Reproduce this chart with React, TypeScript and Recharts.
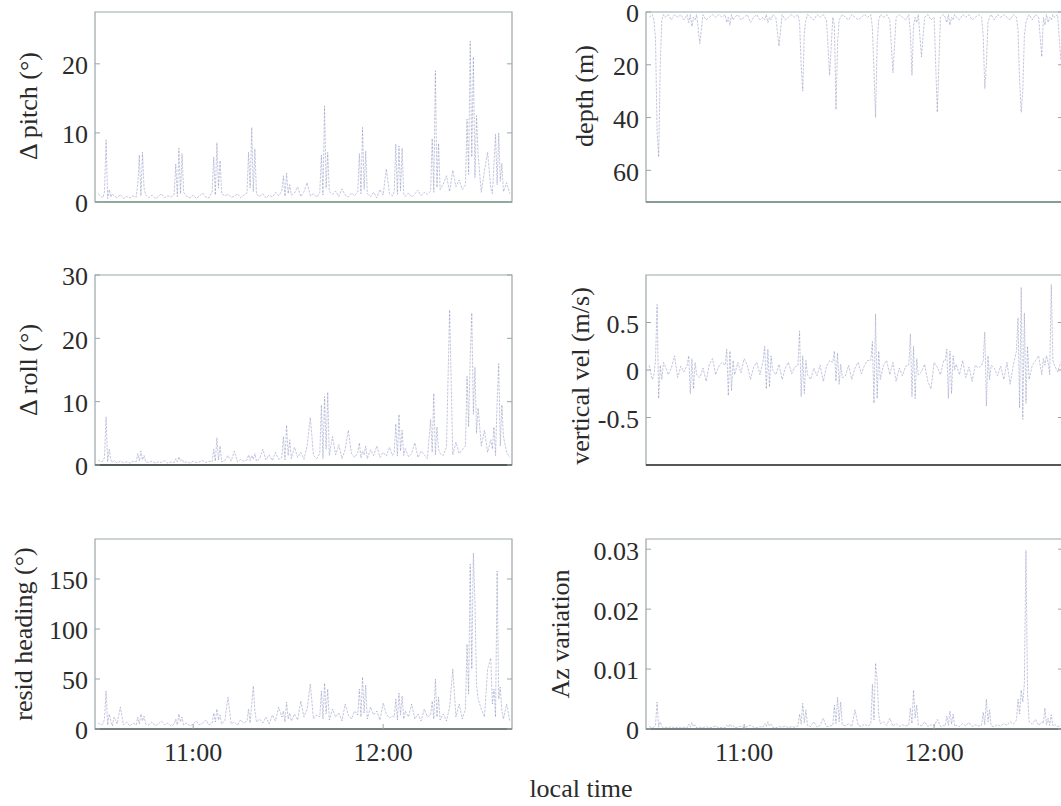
import React from 'react';
import { LineChart, Line, XAxis, YAxis, ReferenceArea, ReferenceLine } from 'recharts';

const FONT = '"Liberation Serif", "DejaVu Serif", "Times New Roman", serif';

// minutes after 10:30 local time (dense around each dive)
const minutesAfter1030 = [
  0, 1,
  1.5, 2, 2.5, 3, 3.5, 4, 4.5,
  5, 6, 7, 8, 9, 10, 11,
  12, 12.5, 13, 13.5, 14, 14.5, 15,
  16, 17, 18, 19, 20, 21, 22, 23,
  24, 24.5, 25, 25.5, 26, 26.5, 27,
  28, 29, 30, 31, 32, 33, 34, 35,
  36, 36.5, 37, 37.5, 38, 38.5, 39,
  40, 41, 42, 43, 44, 45, 46,
  47, 47.5, 48, 48.5, 49, 49.5, 50,
  51, 52, 53, 54, 55, 56, 57,
  58, 58.5, 59, 59.5, 60, 60.5, 61,
  62, 63, 64, 65, 66, 67, 68, 69,
  70, 70.5, 71, 71.5, 72, 72.5, 73,
  74, 75, 76, 77, 78, 79, 80, 81,
  82, 82.5, 83, 83.5, 84, 84.5, 85,
  86, 87, 88, 89, 90, 91, 92, 93,
  93.5, 94, 94.5, 95, 95.5, 96, 96.5,
  97, 98, 99, 100, 101, 102, 103, 104,
  105, 105.5, 106, 106.5, 107, 107.5, 108,
  109, 110, 111, 112, 113, 114, 115,
  116, 116.5, 117, 117.5, 118, 118.5, 119, 119.5, 120,
  121, 122, 123, 124,
  124.5, 125, 125.5, 126, 126.5, 127, 127.5,
  128, 129, 130,
];

const pitchDeg = [
  1.2, 0.8,
  0.6, 1.5, 9, 0.5, 1.8, 0.7, 1.2,
  0.9, 0.6, 1.1, 0.5, 0.8, 0.6, 0.9,
  0.7, 2.5, 6.8, 0.9, 7.2, 2, 1,
  0.6, 1, 0.5, 0.8, 1.2, 0.6, 0.9, 0.7,
  1.1, 5.5, 0.8, 7.8, 1.2, 7, 1.4,
  0.8, 0.6, 1, 0.5, 0.9, 1.3, 0.7, 0.6,
  1.5, 6.5, 1, 8.6, 2, 6, 1.2,
  0.9, 1.1, 0.7, 0.8, 1.2, 0.6, 1,
  1.3, 7.2, 2, 10.8, 1.5, 7.7, 1.1,
  0.8, 1.2, 0.6, 1, 0.7, 1.4, 0.9,
  1.6, 3.8, 0.8, 4.2, 1.2, 2.5, 1,
  1.3, 2.2, 0.8, 1.5, 2.8, 0.9, 1.2, 0.7,
  1.4, 6.8, 1, 13.9, 2, 7.2, 1.5,
  1.1, 1.6, 0.8, 1.9, 1, 0.7, 1.3, 0.9,
  1.5, 7, 1.2, 10.8, 1.8, 7.4, 1.2,
  0.8, 1.4, 0.6, 1.8, 1, 4.8, 1.2, 0.9,
  1.5, 8.4, 1.1, 8.1, 1.6, 7.8, 1.2,
  0.8, 1.3, 0.7, 1.2, 1.7, 0.9, 1.4, 1.1,
  1.6, 9.2, 1.4, 19, 2.1, 8.5, 1.8,
  2.6, 3.8, 1.5, 4.6, 2.2, 3.2, 1.8,
  2.5, 12, 4, 23.3, 6.5, 21, 3.5, 12.5, 6.8,
  1.4, 4.5, 7.2, 2,
  1.2, 5.5, 9.8, 2.5, 10, 3, 5.6,
  1.5, 2.8, 1.2,
];

const rollDeg = [
  0.8, 0.5,
  0.6, 1.2, 7.6, 0.5, 2.5, 0.8, 0.4,
  0.7, 0.3, 0.6, 0.4, 0.5, 0.3, 0.6,
  0.5, 1.8, 0.6, 2.2, 0.8, 1.5, 0.5,
  0.4, 0.6, 0.3, 0.5, 0.4, 0.7, 0.3, 0.5,
  0.4, 1, 0.5, 1.3, 0.6, 0.9, 0.4,
  0.5, 0.3, 0.6, 0.4, 0.5, 0.7, 0.4, 0.6,
  0.5, 2.5, 0.6, 4.3, 0.8, 3, 0.5,
  0.7, 1.5, 0.6, 2.2, 0.5, 0.9, 0.6,
  0.8, 1.6, 0.7, 1.5, 0.9, 1.8, 0.6,
  1, 2.5, 0.8, 1.6, 0.7, 2, 0.9,
  1.2, 4.5, 0.8, 6.3, 1.5, 4, 1,
  2.8, 1.2, 2, 0.9, 3, 7.5, 1.5, 1,
  1.8, 9.5, 1, 10.8, 2.5, 11.5, 1.5,
  4.5, 1.6, 3.2, 1, 2.4, 5.5, 1.8, 1.2,
  2, 3.5, 1.1, 2.2, 1.6, 3, 1,
  2.4, 1.5, 3, 1.2, 2, 1.4, 2.8, 1.5,
  2, 6.5, 1.4, 8, 2.2, 5.5, 1.5,
  2.6, 1.3, 1.8, 3.5, 1.2, 2.2, 1.6, 1,
  7.2, 2, 11.3, 1.6, 6, 2.5, 1.8,
  1.5, 2.8, 24.5, 1.6, 3.6, 1.8, 2.4,
  3, 14, 6, 17, 24, 8, 15.5, 5, 9,
  3, 5.5, 2, 4,
  2.5, 6, 1.5, 10, 16, 3, 9.5,
  4.5, 2, 1.2,
];

const residHeadingDeg = [
  6, 4,
  5, 10, 38, 4, 15, 8, 3,
  12, 5, 22, 4, 7, 3, 6,
  4, 12, 5, 15, 8, 13, 5,
  4, 7, 3, 5, 8, 4, 6, 3,
  5, 10, 4, 15, 7, 12, 4,
  6, 3, 5, 8, 4, 6, 9, 4,
  6, 16, 7, 20, 9, 14, 5,
  8, 32, 5, 7, 4, 9, 6,
  8, 20, 6, 25, 43, 18, 7,
  10, 6, 12, 5, 14, 8, 22,
  12, 18, 7, 27, 10, 16, 8,
  15, 9, 28, 12, 20, 45, 10, 14,
  12, 38, 10, 46, 15, 40, 9,
  20, 12, 16, 8, 25, 14, 10, 18,
  14, 40, 12, 52, 16, 44, 10,
  22, 14, 18, 9, 26, 15, 11, 13,
  12, 30, 9, 36, 14, 33, 10,
  18, 12, 25, 10, 15, 8, 20, 12,
  14, 28, 10, 50, 12, 32, 9,
  15, 8, 22, 60, 12, 25, 10,
  20, 85, 35, 165, 60, 176, 128, 45, 30,
  20, 12, 60, 71,
  25, 40, 12, 158, 30, 42, 18,
  10, 25, 8,
];

const depthM = [
  2, 1,
  3, 10, 45, 55, 20, 3, 1,
  2, 1, 3, 1, 2, 1, 3,
  1, 4, 1, 5.5, 2, 3, 1,
  12, 1, 3, 2, 1, 2, 1, 2,
  1, 4, 2, 5, 1, 3, 2,
  1, 3, 2, 1, 4, 2, 1, 3,
  2, 3, 1, 4, 2, 3, 1,
  2, 13, 1, 3, 2, 1, 2,
  1, 4, 20, 30, 8, 3, 1,
  2, 3, 1, 2, 1, 3, 24,
  2, 5, 37, 12, 3, 2, 1,
  2, 3, 1, 2, 3, 2, 1, 2,
  1, 6, 22, 40, 12, 3, 1,
  2, 1, 3, 23, 2, 1, 2, 3,
  1, 8, 24, 5, 2, 4, 1,
  17, 2, 1, 3, 2, 38, 2, 1,
  2, 4, 1, 5, 2, 3, 1,
  2, 3, 1, 2, 1, 3, 2, 1,
  2, 9, 29, 20, 4, 2, 1,
  3, 1, 2, 1, 2, 3, 1,
  2, 7, 26, 38, 30, 9, 4, 2, 1,
  3, 1, 2, 17,
  2, 5, 1, 4, 2, 3, 1,
  2, 1, 18,
];

const verticalVelMs = [
  0.05, -0.1,
  -0.05, 0.1, 0.69, -0.3, 0.05, -0.1, 0.08,
  0.05, -0.05, 0.02, 0.15, -0.08, 0.04, -0.02,
  0.05, 0.15, -0.25, 0.12, -0.2, 0.08, -0.05,
  -0.08, 0.02, -0.12, 0.06, 0.12, -0.05, 0.04, 0.08,
  0.05, 0.22, -0.27, 0.2, -0.22, 0.1, -0.05,
  0.08, -0.03, 0.12, 0.05, -0.1, 0.03, 0.08, -0.05,
  0.1, 0.25, -0.2, 0.22, -0.18, 0.15, 0,
  -0.05, 0.06, -0.1, 0.02, 0.08, -0.04, 0.03,
  0.05, 0.41, -0.28, 0.15, -0.25, 0.1, -0.05,
  -0.1, 0.02, -0.06, 0.05, -0.12, 0.04, 0.1,
  0.08, 0.2, -0.12, 0.18, -0.15, 0.06, -0.08,
  -0.06, 0.05, -0.1, 0.02, 0.08, -0.04, 0.05, 0.1,
  0.1, 0.3, -0.35, 0.59, -0.3, 0.2, -0.1,
  0.05, 0.1, -0.05, 0.08, -0.12, 0.02, -0.06, 0.04,
  0.05, 0.38, -0.28, 0.25, -0.3, 0.12, -0.05,
  -0.02, 0.06, -0.12, -0.2, 0.08, 0.03, -0.05, 0.1,
  0.1, 0.22, -0.3, 0.2, -0.25, 0.15, 0,
  0.06, -0.05, 0.1, -0.08, 0.03, -0.12, 0.05, 0.02,
  0.05, 0.1, 0.4, -0.38, 0.15, -0.1, 0.05,
  0.02, -0.06, 0.04, -0.1, 0.08, -0.15, 0.05,
  0.2, 0.55, -0.4, 0.87, -0.52, 0.6, -0.35, 0.25, -0.1,
  0.05, 0.1, 0.15, -0.05,
  0.12, 0.05, 0.15, 0.08, -0.05, 0.9, 0.1,
  0.05, -0.02, 0.08,
];

const azVariation = [
  0.0004, 0.0002,
  0.0003, 0.0006, 0.0045, 0.0003, 0.0012, 0.0004, 0.0002,
  0.0003, 0.0002, 0.0004, 0.0002, 0.0003, 0.0002, 0.0003,
  0.0002, 0.0008, 0.0003, 0.0011, 0.0004, 0.0007, 0.0002,
  0.0003, 0.0002, 0.0004, 0.0002, 0.0003, 0.0005, 0.0002, 0.0003,
  0.0002, 0.0006, 0.0003, 0.0008, 0.0004, 0.0006, 0.0002,
  0.0003, 0.0005, 0.0002, 0.0004, 0.0006, 0.0003, 0.0002, 0.0004,
  0.0003, 0.0009, 0.0004, 0.0012, 0.0005, 0.0008, 0.0003,
  0.0002, 0.0004, 0.0003, 0.0005, 0.0002, 0.0004, 0.0003,
  0.0005, 0.0025, 0.0008, 0.0043, 0.001, 0.0032, 0.0006,
  0.0004, 0.0012, 0.0003, 0.0006, 0.0018, 0.0004, 0.0005,
  0.0006, 0.004, 0.0009, 0.0053, 0.0012, 0.0045, 0.0007,
  0.0005, 0.0009, 0.0004, 0.0032, 0.0006, 0.0004, 0.0008, 0.0005,
  0.0008, 0.0075, 0.0015, 0.011, 0.0082, 0.0025, 0.0009,
  0.0012, 0.0006, 0.0018, 0.0005, 0.0009, 0.0004, 0.0007, 0.0005,
  0.0006, 0.0035, 0.0009, 0.0065, 0.0018, 0.004, 0.0007,
  0.0005, 0.0012, 0.0004, 0.0007, 0.0005, 0.0016, 0.0004, 0.0006,
  0.0005, 0.0022, 0.0006, 0.003, 0.0008, 0.0025, 0.0004,
  0.0006, 0.0004, 0.0009, 0.0005, 0.0011, 0.0004, 0.0007, 0.0005,
  0.0006, 0.0028, 0.0007, 0.005, 0.0012, 0.0032, 0.0005,
  0.0004, 0.0007, 0.0005, 0.0009, 0.0006, 0.0012, 0.0008,
  0.0015, 0.005, 0.0025, 0.0065, 0.0045, 0.0075, 0.0298, 0.006, 0.0012,
  0.0008, 0.0016, 0.0006, 0.0012,
  0.0009, 0.0035, 0.0007, 0.0018, 0.0006, 0.0024, 0.0005,
  0.0008, 0.0004, 0.0006,
];

const timeDomain = [-1, 130.7];
const timeTickValues = [30, 90];
const timeTickLabels = ['11:00', '12:00'];

const pitchTicks = [0, 10, 20];
const rollTicks = [0, 10, 20, 30];
const headingTicks = [0, 50, 100, 150];
const depthTicks = [0, 20, 40, 60];
const velTicks = [-0.5, 0, 0.5];
const azTicks = [0, 0.01, 0.02, 0.03];

const PLOT_W = 417;
const PLOT_H = 190;
const AXIS_W = 80;
const MT = 18;
const MR = 4;
const TEXT = '#2b2b2b';
const FRAME = '#9ba6a8';
const TRACE = '#7279b0';
const FS = 26;

function Panel(props: any) {
  const { left, top, values, domain, ticks, reversed, showX, bottomStroke } = props;
  const data = minutesAfter1030.map((t, i) => ({ t, v: values[i] }));
  const xH = 40;
  const bottomH = showX ? xH : 16;
  const width = AXIS_W + PLOT_W + MR;
  const height = MT + PLOT_H + bottomH;
  const bottomVal = reversed ? domain[1] : domain[0];

  const renderYTick = (p: any) => {
    const { x, y, payload } = p;
    const ax = x + 7;
    return (
      <g>
        <line x1={ax} x2={ax + 5} y1={y} y2={y} stroke={FRAME} strokeWidth={1} />
        <line x1={ax + PLOT_W - 5} x2={ax + PLOT_W} y1={y} y2={y} stroke={FRAME} strokeWidth={1} />
        <text x={x} y={y} dy="0.4em" textAnchor="end" fontSize={FS} fill={TEXT} fontFamily={FONT}>
          {String(payload.value)}
        </text>
      </g>
    );
  };

  const renderXTick = (p: any) => {
    const { x, y, payload } = p;
    const idx = timeTickValues.indexOf(payload.value);
    return (
      <g>
        <line x1={x} x2={x} y1={y - 14} y2={y - 19} stroke={FRAME} strokeWidth={1} />
        <text x={x} y={y} dy="0.71em" textAnchor="middle" fontSize={FS} fill={TEXT} fontFamily={FONT}>
          {timeTickLabels[idx]}
        </text>
      </g>
    );
  };

  return (
    <div style={{ position: 'absolute', left: left - AXIS_W, top: top - MT, width, height }}>
      <LineChart
        width={width}
        height={height}
        data={data}
        margin={{ top: MT, right: MR, bottom: showX ? 0 : bottomH, left: 0 }}
      >
        <XAxis
          type="number"
          dataKey="t"
          domain={timeDomain}
          ticks={timeTickValues}
          hide={!showX}
          height={xH}
          tickSize={0}
          tickMargin={14}
          axisLine={false}
          tickLine={false}
          tick={renderXTick}
          interval={0}
          allowDataOverflow
        />
        <YAxis
          type="number"
          domain={domain}
          ticks={ticks}
          reversed={reversed}
          width={AXIS_W}
          tickSize={0}
          tickMargin={7}
          axisLine={false}
          tickLine={false}
          tick={renderYTick}
          interval={0}
          allowDataOverflow
        />
        <ReferenceArea
          x1={timeDomain[0]}
          x2={timeDomain[1]}
          y1={domain[0]}
          y2={domain[1]}
          fill="none"
          fillOpacity={0}
          stroke={FRAME}
          strokeWidth={1.2}
        />
        <Line
          type="linear"
          dataKey="v"
          stroke={TRACE}
          strokeWidth={0.7}
          strokeOpacity={0.6}
          strokeDasharray="2.5 1.2"
          dot={false}
          isAnimationActive={false}
        />
        <ReferenceLine y={bottomVal} stroke={bottomStroke} strokeWidth={1.4} />
      </LineChart>
    </div>
  );
}

const axisTitles = [
  { text: 'Δ pitch (°)', x: 29, y: 106 },
  { text: 'Δ roll (°)', x: 29, y: 370 },
  { text: 'resid heading (°)', x: 24, y: 634 },
  { text: 'depth (m)', x: 585, y: 96 },
  { text: 'vertical vel (m/s)', x: 581, y: 376 },
  { text: 'Az variation', x: 561, y: 634 },
];

export default function App() {
  return (
    <div
      style={{
        position: 'absolute',
        left: 0,
        top: 0,
        width: 1061,
        height: 806,
        overflow: 'hidden',
        background: '#ffffff',
        fontFamily: FONT,
      }}
    >
      <Panel left={95} top={12} values={pitchDeg} domain={[0, 27.5]} ticks={pitchTicks} bottomStroke="#7f9a88" />
      <Panel left={95} top={275} values={rollDeg} domain={[0, 30]} ticks={rollTicks} bottomStroke="#2e3432" />
      <Panel left={95} top={539} values={residHeadingDeg} domain={[0, 190]} ticks={headingTicks} showX bottomStroke="#5d6664" />
      <Panel left={646} top={12} values={depthM} domain={[0, 72]} ticks={depthTicks} reversed bottomStroke="#6f8a80" />
      <Panel left={646} top={275} values={verticalVelMs} domain={[-1, 1]} ticks={velTicks} bottomStroke="#2a2e2e" />
      <Panel left={646} top={539} values={azVariation} domain={[0, 0.0317]} ticks={azTicks} showX bottomStroke="#5d6664" />
      {axisTitles.map((a) => (
        <div
          key={a.text}
          style={{
            position: 'absolute',
            left: a.x,
            top: a.y,
            transform: 'translate(-50%, -50%) rotate(-90deg)',
            whiteSpace: 'nowrap',
            fontSize: FS,
            lineHeight: 1,
            color: TEXT,
          }}
        >
          {a.text}
        </div>
      ))}
      <div
        style={{
          position: 'absolute',
          left: 581,
          top: 789,
          transform: 'translate(-50%, -50%)',
          whiteSpace: 'nowrap',
          fontSize: FS,
          lineHeight: 1,
          color: TEXT,
        }}
      >
        local time
      </div>
    </div>
  );
}
